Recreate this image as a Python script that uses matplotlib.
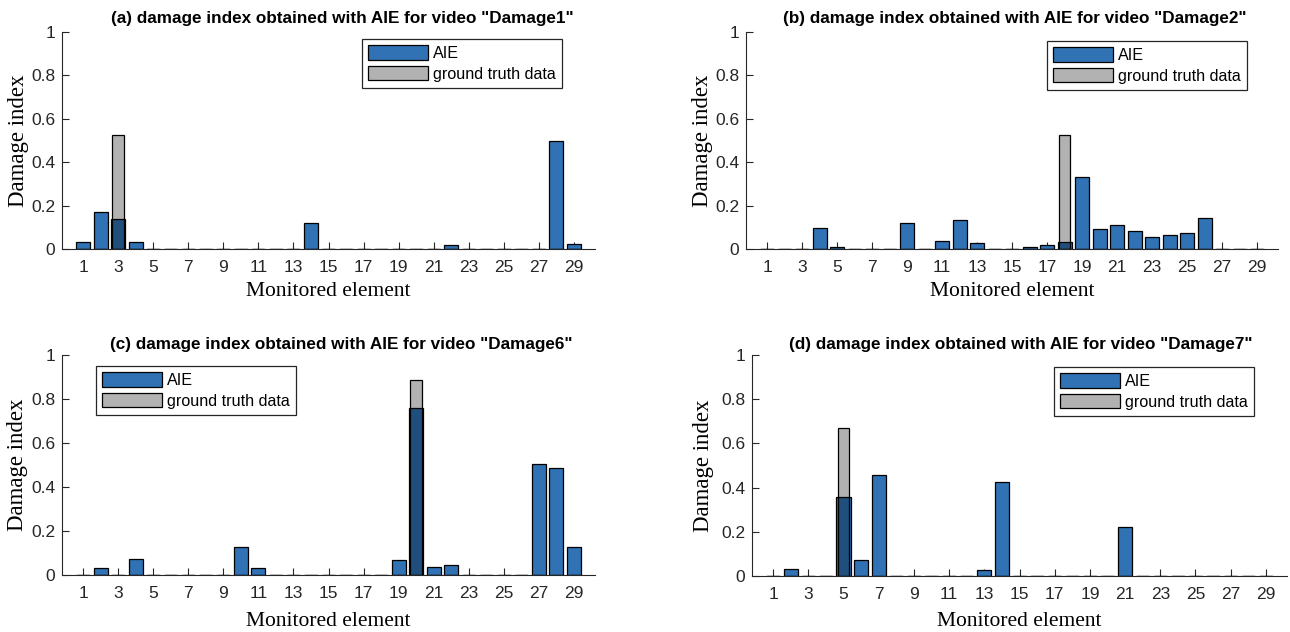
import matplotlib
matplotlib.use("Agg")
import matplotlib.pyplot as plt
import numpy as np

elements = list(range(1, 30))
xtick_vals = list(range(1, 30, 2))
ytick_vals = [0, 0.2, 0.4, 0.6, 0.8, 1]
ytick_labels = ["0", "0.2", "0.4", "0.6", "0.8", "1"]

titles = [
    '(a) damage index obtained with AIE for video "Damage1"',
    '(b) damage index obtained with AIE for video "Damage2"',
    '(c) damage index obtained with AIE for video "Damage6"',
    '(d) damage index obtained with AIE for video "Damage7"',
]

# AIE damage index per monitored element (1..29)
aie_damage1 = [0.032, 0.171, 0.138, 0.032, 0, 0, 0, 0, 0, 0, 0, 0, 0, 0.121, 0,
               0, 0, 0, 0, 0, 0, 0.020, 0, 0, 0, 0, 0, 0.500, 0.024]
aie_damage2 = [0, 0, 0, 0.097, 0.009, 0, 0, 0, 0.121, 0, 0.038, 0.133, 0.029, 0, 0,
               0.009, 0.017, 0.033, 0.330, 0.092, 0.110, 0.085, 0.053, 0.065, 0.076,
               0.142, 0, 0, 0]
aie_damage6 = [0, 0.033, 0, 0.071, 0, 0, 0, 0, 0, 0.126, 0.033, 0, 0, 0, 0,
               0, 0, 0, 0.068, 0.757, 0.036, 0.047, 0, 0, 0, 0, 0.504, 0.486, 0.129]
aie_damage7 = [0, 0.030, 0, 0, 0.358, 0.071, 0.455, 0, 0, 0, 0, 0, 0.026, 0.427, 0,
               0, 0, 0, 0, 0, 0.222, 0, 0, 0, 0, 0, 0, 0, 0]

# ground truth damage per monitored element
gt_damage1 = [0, 0, 0.527] + [0] * 26
gt_damage2 = [0] * 17 + [0.527] + [0] * 11
gt_damage6 = [0] * 19 + [0.885] + [0] * 9
gt_damage7 = [0] * 4 + [0.671] + [0] * 24

aie_sets = [aie_damage1, aie_damage2, aie_damage6, aie_damage7]
gt_sets = [gt_damage1, gt_damage2, gt_damage6, gt_damage7]

W, H = 1290, 632
fig = plt.figure(figsize=(W / 100, H / 100), dpi=100)

# axes rectangles in pixels: left, right, top, bottom
rects_px = [
    (62, 595, 32, 249),
    (746, 1278, 32, 249),
    (62, 595, 355, 575),
    (752, 1287, 355, 576),
]
legend_px = [(362, 39), (1047, 41), (96, 366), (1054, 367)]
title_x = [0.525, 0.506, 0.523, 0.503]
title_dy_px = [14, 14, 10, 10]
ylabel_x = [-0.082, -0.082, -0.084, -0.09]
xlabel_dy_px = [42, 42, 46, 46]

blue = "#3072B3"
axcol = "#262626"

for i in range(4):
    l, r, t, b = rects_px[i]
    ax = fig.add_axes([l / W, 1 - b / H, (r - l) / W, (b - t) / H])
    h_aie = ax.bar(elements, aie_sets[i], width=0.8, color=blue,
                   edgecolor="black", linewidth=0.9, zorder=2, label="AIE")
    h_gt = ax.bar(elements, gt_sets[i], width=0.65, color=(0, 0, 0, 0.3),
                  edgecolor="black", linewidth=0.9, zorder=3,
                  label="ground truth data")
    ax.set_xlim(-0.2, 30.2)
    ax.set_ylim(0, 1)
    ax.set_xticks(xtick_vals)
    ax.set_xticklabels([str(v) for v in xtick_vals],
                       fontfamily="Liberation Sans", fontsize=12.5, color=axcol)
    ax.set_yticks(ytick_vals)
    ax.set_yticklabels(ytick_labels, fontfamily="Liberation Sans",
                       fontsize=12.5, color=axcol)
    ax.tick_params(axis="x", direction="in", length=5, width=0.8,
                   color=axcol, pad=8)
    ax.tick_params(axis="y", direction="in", length=5, width=0.8,
                   color=axcol, pad=5)
    for s in ("top", "right"):
        ax.spines[s].set_visible(False)
    for s in ("left", "bottom"):
        ax.spines[s].set_color(axcol)
        ax.spines[s].set_linewidth(0.8)
    ax.set_ylabel("Damage index", fontfamily="Liberation Serif", fontsize=16.5)
    ax.yaxis.set_label_coords(ylabel_x[i], 0.5)
    ax.set_xlabel("Monitored element", fontfamily="Liberation Serif", fontsize=15.5)
    ax.xaxis.set_label_coords(0.5, -xlabel_dy_px[i] / (b - t))
    ax.xaxis.label.set_va("center")
    ax.yaxis.label.set_va("center")
    ax.text(title_x[i], 1 + title_dy_px[i] / (b - t), titles[i],
            transform=ax.transAxes, ha="center", va="center",
            fontfamily="Liberation Sans", fontweight="bold", fontsize=12.3)
    lx, ly = legend_px[i]
    leg = ax.legend(handles=[h_aie, h_gt], loc="upper left",
                    bbox_to_anchor=(lx / W, 1 - ly / H),
                    bbox_transform=fig.transFigure, borderaxespad=0,
                    prop={"family": "Liberation Sans", "size": 11.6},
                    handlelength=3.7, handleheight=1.0, handletextpad=0.3,
                    labelspacing=0.3, borderpad=0.4, fancybox=False,
                    framealpha=1, edgecolor=axcol)
    leg.get_frame().set_linewidth(0.9)

fig.savefig("out.png", dpi=100)
